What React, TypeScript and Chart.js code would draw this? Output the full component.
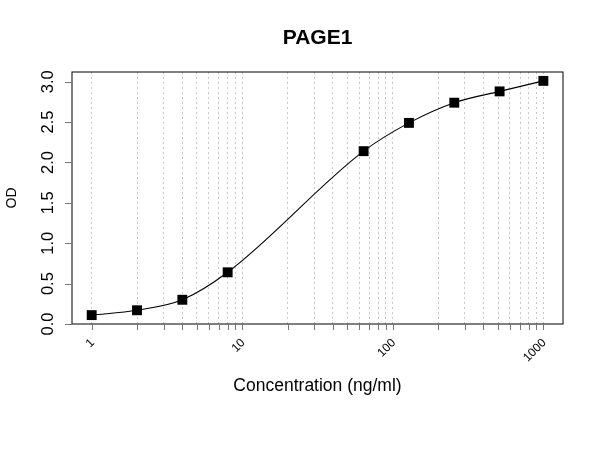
import { useEffect, useRef } from "react"
import { Chart, type ChartConfiguration, type Plugin, registerables } from "chart.js"

Chart.register(...registerables)

const concentrations = [1, 2, 4, 8, 64, 128, 256, 512, 1000]
const odValues = [0.11, 0.17, 0.3, 0.64, 2.14, 2.49, 2.74, 2.88, 3.01]

const xGridValues = [
  1, 2, 3, 4, 5, 6, 7, 8, 9, 10, 20, 30, 40, 50, 60, 70, 80, 90, 100, 200, 300, 400, 500, 600, 700,
  800, 900, 1000,
]
const xTickLabels = [1, 10, 100, 1000]
const yTickValues = [0, 0.5, 1, 1.5, 2, 2.5, 3]

const FONT = '"Liberation Sans", Arial, sans-serif'

// R-style frame, ticks and labels drawn on top of the chart
const rAxesPlugin: Plugin<"line"> = {
  id: "rAxes",
  afterDraw(chart) {
    const { ctx, chartArea, scales } = chart
    const x = scales.x
    const y = scales.y
    ctx.save()

    // box
    ctx.strokeStyle = "#000"
    ctx.lineWidth = 1
    ctx.strokeRect(chartArea.left, chartArea.top, chartArea.right - chartArea.left, chartArea.bottom - chartArea.top)

    // x tick marks
    ctx.strokeStyle = "#777"
    ctx.beginPath()
    for (const v of xGridValues) {
      const px = Math.round(x.getPixelForValue(v)) + 0.5
      ctx.moveTo(px, chartArea.bottom)
      ctx.lineTo(px, chartArea.bottom + 6)
    }
    // y tick marks
    for (const v of yTickValues) {
      const py = Math.round(y.getPixelForValue(v)) + 0.5
      ctx.moveTo(chartArea.left, py)
      ctx.lineTo(chartArea.left - 7, py)
    }
    ctx.stroke()

    ctx.fillStyle = "#000"

    // x tick labels, rotated 45 degrees
    ctx.font = `12px ${FONT}`
    ctx.textAlign = "right"
    ctx.textBaseline = "middle"
    for (const v of xTickLabels) {
      const px = x.getPixelForValue(v)
      ctx.save()
      ctx.translate(px + 1, chartArea.bottom + 17)
      ctx.rotate(-Math.PI / 4)
      ctx.fillText(String(v), 0, 0)
      ctx.restore()
    }

    // y tick labels, rotated 90 degrees
    ctx.font = `16.5px ${FONT}`
    ctx.textAlign = "center"
    ctx.textBaseline = "alphabetic"
    for (const v of yTickValues) {
      const py = y.getPixelForValue(v)
      ctx.save()
      ctx.translate(53, py)
      ctx.rotate(-Math.PI / 2)
      ctx.fillText(v.toFixed(1), 0, 0)
      ctx.restore()
    }

    const midX = (chartArea.left + chartArea.right) / 2
    const midY = (chartArea.top + chartArea.bottom) / 2

    // title
    ctx.font = `bold 21px ${FONT}`
    ctx.fillText("PAGE1", midX, 44)

    // x axis title
    ctx.font = `17.5px ${FONT}`
    ctx.fillText("Concentration (ng/ml)", midX, 391)

    // y axis title
    ctx.font = `14px ${FONT}`
    ctx.save()
    ctx.translate(16, midY)
    ctx.rotate(-Math.PI / 2)
    ctx.fillText("OD", 0, 0)
    ctx.restore()

    ctx.restore()
  },
}

export default function App() {
  const chartRef = useRef<HTMLCanvasElement>(null)
  const chartInstance = useRef<Chart | null>(null)

  useEffect(() => {
    if (!chartRef.current) return

    const ctx = chartRef.current.getContext("2d")
    if (!ctx) return

    if (chartInstance.current) {
      chartInstance.current.destroy()
    }

    const config: ChartConfiguration<"line"> = {
      type: "line",
      data: {
        datasets: [
          {
            label: "OD",
            data: concentrations.map((c, i) => ({ x: c, y: odValues[i] })),
            borderColor: "#000",
            borderWidth: 1.1,
            backgroundColor: "#000",
            pointStyle: "rect",
            pointRadius: 7,
            pointBorderWidth: 0,
            cubicInterpolationMode: "monotone",
          },
        ],
      },
      options: {
        animation: false,
        responsive: true,
        maintainAspectRatio: false,
        layout: {
          padding: { left: 72, top: 72, right: 37, bottom: 126 },
        },
        scales: {
          x: {
            type: "logarithmic",
            bounds: "data",
            min: 0.74,
            max: 1350,
            afterBuildTicks: (scale) => {
              scale.ticks = xGridValues.map((v) => ({ value: v }))
            },
            ticks: { display: false },
            border: { display: false, dash: [2, 3] },
            grid: {
              color: "#c8c8c8",
              lineWidth: 1,
              drawTicks: false,
            },
          },
          y: {
            type: "linear",
            min: 0,
            max: 3.12,
            ticks: { display: false },
            border: { display: false },
            grid: { display: false, drawTicks: false },
          },
        },
        plugins: {
          legend: { display: false },
          tooltip: { enabled: false },
        },
      },
      plugins: [rAxesPlugin],
    }

    chartInstance.current = new Chart(ctx, config)

    return () => {
      if (chartInstance.current) {
        chartInstance.current.destroy()
        chartInstance.current = null
      }
    }
  }, [])

  return (
    <div style={{ position: "fixed", left: 0, top: 0, width: 600, height: 450, background: "#fff" }}>
      <canvas ref={chartRef} />
    </div>
  )
}
